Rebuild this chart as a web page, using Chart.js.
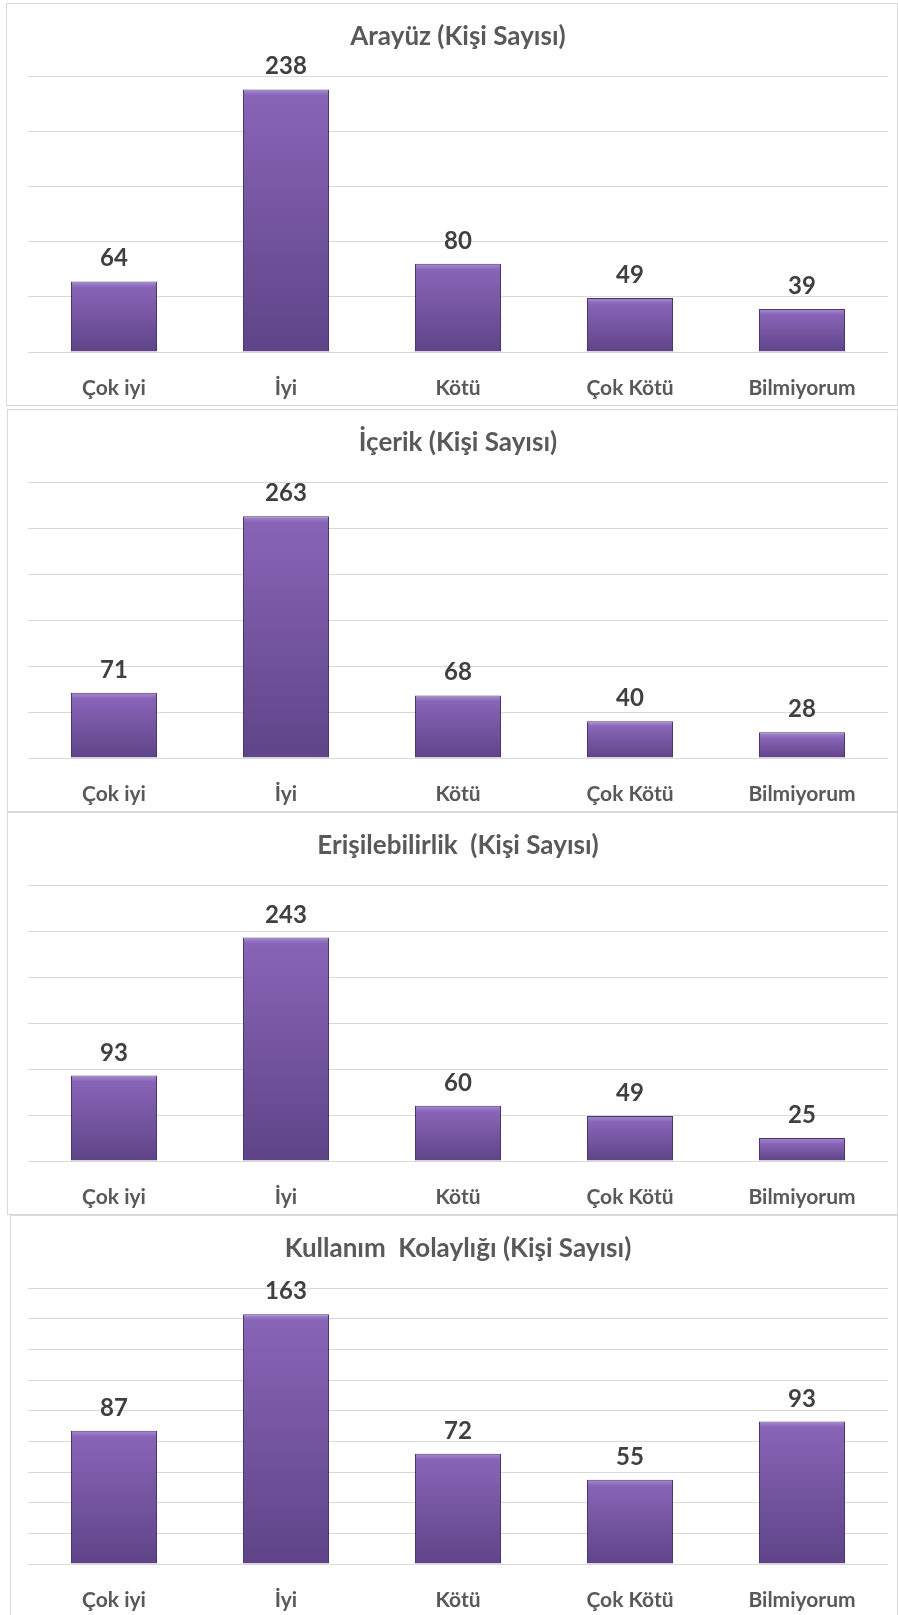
<!DOCTYPE html>
<html>
<head>
<meta charset="utf-8">
<script src="https://cdn.jsdelivr.net/npm/chart.js@4.4.0/dist/chart.umd.min.js"></script>
<style>
    html, body { margin: 0; padding: 0; background: #ffffff; }
    body { width: 898px; height: 1615px; position: relative; overflow: hidden; }
    .panel {
        position: absolute;
        box-sizing: border-box;
        border: 1px solid #d9d9d9;
        background: #ffffff;
        height: 403px;
    }
    .panel canvas { display: block; }
</style>
</head>
<body>
<div class="panel" id="p1" style="left:6px; top:3px; width:892px;"><canvas id="c1"></canvas></div>
<div class="panel" id="p2" style="left:7px; top:409px; width:891px;"><canvas id="c2"></canvas></div>
<div class="panel" id="p3" style="left:7px; top:812px; width:891px;"><canvas id="c3"></canvas></div>
<div class="panel" id="p4" style="left:10px; top:1215px; width:888px;"><canvas id="c4"></canvas></div>

<script>
// *** DATA ***
var categories = ["Çok iyi", "İyi", "Kötü", "Çok Kötü", "Bilmiyorum"];

var arayuz = [64, 238, 80, 49, 39];
var icerik = [71, 263, 68, 40, 28];
var erisilebilirlik = [93, 243, 60, 49, 25];
var kullanimKolayligi = [87, 163, 72, 55, 93];

var titles = [
    "Arayüz (Kişi Sayısı)",
    "İçerik (Kişi Sayısı)",
    "Erişilebilirlik  (Kişi Sayısı)",
    "Kullanım  Kolaylığı (Kişi Sayısı)"
];

var axisMax = [250, 300, 300, 180];
var axisStep = [50, 50, 50, 20];

// *** FUNCTIONS ***
function barFill(context) {
    var chart = context.chart;
    var area = chart.chartArea;
    if (!area || !chart.scales.y) return "#7b58a8";
    var top = chart.scales.y.getPixelForValue(context.raw);
    var bottom = chart.scales.y.getPixelForValue(0);
    var h = Math.max(bottom - top, 1);
    var g = chart.ctx.createLinearGradient(0, top, 0, bottom);
    g.addColorStop(0, "#a58cd2");
    g.addColorStop(Math.min(0.9, 6 / h), "#8864b6");
    g.addColorStop(1, "#5f4488");
    return g;
}

var valueLabels = {
    id: "valueLabels",
    afterDatasetsDraw: function(chart) {
        var ctx = chart.ctx;
        var meta = chart.getDatasetMeta(0);
        ctx.save();
        ctx.font = "bold 24px Lato";
        ctx.fillStyle = "#404040";
        ctx.textAlign = "center";
        ctx.textBaseline = "alphabetic";
        meta.data.forEach(function(bar, i) {
            ctx.fillText(chart.data.datasets[0].data[i], bar.x, bar.y - 15);
        });
        ctx.restore();
    }
};

function barChart(canvas, title, values, max, step, padLeft, padRight) {
    return new Chart(canvas, {
        type: "bar",
        data: {
            labels: categories,
            datasets: [{
                data: values,
                backgroundColor: barFill,
                borderColor: "#4b3670",
                borderWidth: 1,
                barPercentage: 0.5,
                categoryPercentage: 1.0
            }]
        },
        options: {
            responsive: true,
            maintainAspectRatio: false,
            animation: false,
            layout: { padding: { left: padLeft, right: padRight, top: 0, bottom: 0 } },
            plugins: {
                legend: { display: false },
                tooltip: { enabled: false },
                title: {
                    display: true,
                    text: title,
                    color: "#595959",
                    font: { family: "Lato", size: 26, weight: "bold" },
                    padding: { top: 17, bottom: 24 }
                }
            },
            scales: {
                x: {
                    grid: { display: false },
                    border: { display: false },
                    ticks: {
                        color: "#595959",
                        font: { family: "Lato", size: 21, weight: "bold" },
                        padding: 16,
                        maxRotation: 0
                    },
                    afterFit: function(scale) { scale.height = 53; }
                },
                y: {
                    min: 0,
                    max: max,
                    ticks: { display: false, stepSize: step },
                    grid: { color: "#d9d9d9", lineWidth: 1, drawTicks: false },
                    border: { display: false }
                }
            }
        },
        plugins: [valueLabels]
    });
}

var seriesList = [arayuz, icerik, erisilebilirlik, kullanimKolayligi];
var leftPads = [21, 20, 20, 17];
var rightPads = [9, 9, 9, 9];

seriesList.forEach(function(values, i) {
    barChart(document.getElementById("c" + (i + 1)), titles[i], values, axisMax[i], axisStep[i], leftPads[i], rightPads[i]);
});
</script>
</body>
</html>
